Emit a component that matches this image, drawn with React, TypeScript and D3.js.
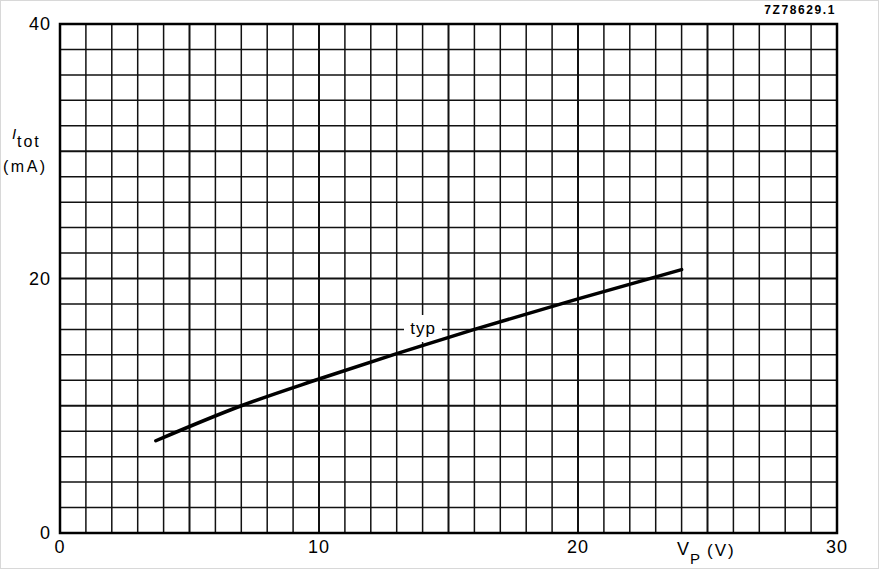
import React from "react";
import * as d3 from "d3";

const xTicks = [0, 10, 20, 30];
const yTicks = [0, 20, 40];
const vp = [3.7, 7, 10, 13, 16, 20, 24];
const itot = [7.25, 10.0, 12.1, 14.1, 16.0, 18.4, 20.7];
const curveLabel = "typ";
const figId = "7Z78629.1";

const W = 879;
const H = 569;
const M = { left: 60, right: 837, top: 24, bottom: 533 };

export default function App() {
  const x = d3.scaleLinear().domain([0, 30]).range([M.left, M.right]);
  const y = d3.scaleLinear().domain([0, 40]).range([M.bottom, M.top]);
  const vLines = d3.range(0, 31, 1);
  const hLines = d3.range(0, 41, 2);
  const pts: [number, number][] = vp.map((v, i) => [v, itot[i]]);
  const line = d3
    .line<[number, number]>()
    .x((d) => x(d[0]))
    .y((d) => y(d[1]))
    .curve(d3.curveMonotoneX);
  const font = "'Liberation Sans', Arial, Helvetica, sans-serif";
  return (
    <svg
      width={W}
      height={H}
      style={{ position: "absolute", left: 0, top: 0, background: "#fff" }}
      fontFamily={font}
    >
      <rect x={0.5} y={0.5} width={W - 1} height={H - 1} fill="#fff" stroke="#d8d8d8" />
      {vLines.map((v) => (
        <line
          key={"v" + v}
          x1={x(v)}
          x2={x(v)}
          y1={y(0)}
          y2={y(40)}
          stroke="#111"
          strokeWidth={v % 5 === 0 ? 2 : 1.5}
        />
      ))}
      {hLines.map((v) => (
        <line
          key={"h" + v}
          x1={x(0)}
          x2={x(30)}
          y1={y(v)}
          y2={y(v)}
          stroke="#111"
          strokeWidth={v % 10 === 0 ? 2 : 1.5}
        />
      ))}
      <rect
        x={x(0)}
        y={y(40)}
        width={x(30) - x(0)}
        height={y(0) - y(40)}
        fill="none"
        stroke="#000"
        strokeWidth={2.5}
      />
      <rect x={404} y={315} width={38} height={27} fill="#fff" />
      <text x={423} y={334} fontSize={17} letterSpacing={1} textAnchor="middle" fill="#000">
        {curveLabel}
      </text>
      <path d={line(pts) || ""} fill="none" stroke="#000" strokeWidth={3.5} strokeLinecap="round" />
      {yTicks.map((t) => (
        <text
          key={"yt" + t}
          x={51}
          y={y(t) + 6}
          fontSize={18}
          letterSpacing={1}
          textAnchor="end"
          fill="#000"
        >
          {t}
        </text>
      ))}
      {xTicks.map((t) => (
        <text
          key={"xt" + t}
          x={x(t)}
          y={553}
          fontSize={18}
          letterSpacing={1}
          textAnchor="middle"
          fill="#000"
        >
          {t}
        </text>
      ))}
      <text x={12} y={139} fontSize={15} fill="#000" fontStyle="italic">I</text>
      <text x={17} y={147} fontSize={16} letterSpacing={2} fill="#000">tot</text>
      <text x={3} y={172} fontSize={16} letterSpacing={2.5} fill="#000">(mA)</text>
      <text x={677} y={555} fontSize={18} fill="#000">V</text>
      <text x={690} y={564} fontSize={15} fill="#000">P</text>
      <text x={707} y={556} fontSize={17} letterSpacing={2} fill="#000">(V)</text>
      <text x={836} y={14} fontSize={12} letterSpacing={1.6} fontWeight="bold" textAnchor="end" fill="#000">
        {figId}
      </text>
    </svg>
  );
}
